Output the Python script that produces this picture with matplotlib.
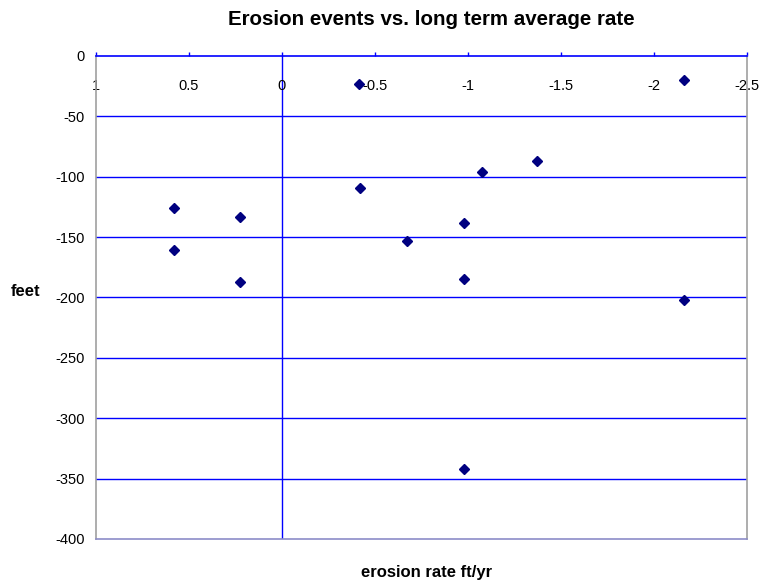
import matplotlib.pyplot as plt

plt.rcParams['font.family'] = ['Liberation Sans', 'DejaVu Sans']

# erosion rate (ft/yr) vs. event size (feet)
rate = [0.58, 0.58, 0.226, 0.226, -0.414, -0.42, -0.67, -0.98, -0.98, -1.075, -1.37, -2.16, -2.16, -0.98]
feet = [-126, -161, -133, -187, -23, -109, -153, -138, -185, -96, -87, -20, -202, -342]

xticks = [1, 0.5, 0, -0.5, -1, -1.5, -2, -2.5]
yticks = [0, -50, -100, -150, -200, -250, -300, -350, -400]

fig = plt.figure(figsize=(7.61, 5.87), dpi=100)
ax = fig.add_axes([0.1261, 0.0818, 0.8555, 0.8228])

# horizontal gridlines and y axis at x=0
for y in yticks[1:-1]:
    ax.axhline(y, color='#0000ff', lw=1, zorder=1)
ax.axvline(0, color='#0000ff', lw=1, zorder=1)

ax.plot(rate, feet, linestyle='none', marker='D', markersize=5.5,
        color='#000080', zorder=3, clip_on=False)

ax.set_xlim(1, -2.5)
ax.set_ylim(-400, 0)
ax.set_xticks(xticks)
ax.set_xticklabels([f'{t:g}' for t in xticks])
ax.set_yticks(yticks)
ax.set_yticklabels([f'{t:g}' for t in yticks])

ax.xaxis.set_ticks_position('top')
ax.tick_params(axis='x', direction='out', length=3, width=1, color='#0000ff',
               labelsize=10.5, pad=-30)
ax.tick_params(axis='y', length=0, labelsize=10.5, pad=8)

ax.spines['top'].set_color('#0000ff')
ax.spines['left'].set_color('#a0a0a0')
ax.spines['right'].set_color('#a0a0a0')
ax.spines['bottom'].set_color('#8c8cc8')
for s in ax.spines.values():
    s.set_linewidth(1.2)

fig.text(0.567, 0.966, 'Erosion events vs. long term average rate',
         ha='center', va='center', fontsize=14.8, fontweight='bold')
fig.text(0.56, 0.024, 'erosion rate ft/yr', ha='center', va='center',
         fontsize=12, fontweight='bold')
fig.text(0.034, 0.503, 'feet', ha='center', va='center',
         fontsize=12, fontweight='bold')

fig.savefig('out.png', dpi=100)
